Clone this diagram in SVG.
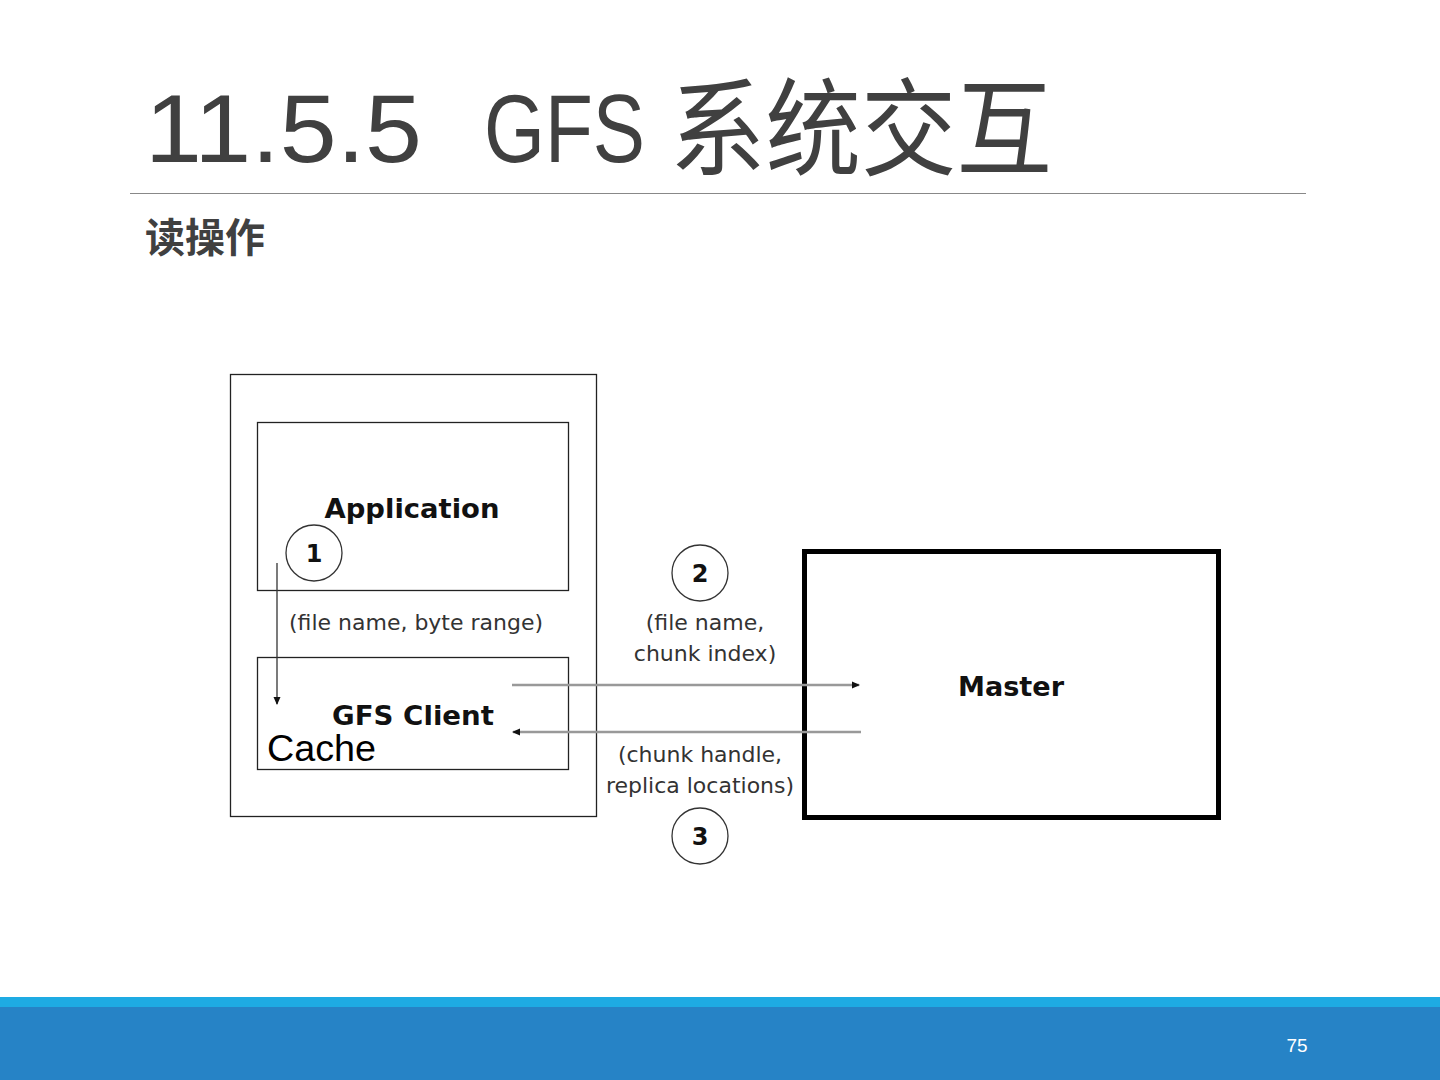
<svg xmlns="http://www.w3.org/2000/svg" width="1440" height="1080" viewBox="0 0 1440 1080">
<style>
.title{font-family:"Liberation Sans","Noto Sans CJK SC",sans-serif;fill:#404040}
.lbl{font-family:"DejaVu Sans",sans-serif;font-weight:bold;fill:#111;text-anchor:middle}
.note{font-family:"DejaVu Sans",sans-serif;fill:#333;text-anchor:middle;font-size:22px}
.box{fill:#fff;stroke:#222;stroke-width:1.3}
.num{fill:#fff;stroke:#333;stroke-width:1.3}
.conn{stroke:#999;stroke-width:2.5;fill:none}
</style>
<defs>
<marker id="ah" markerWidth="8" markerHeight="8" refX="7" refY="4" orient="auto" markerUnits="userSpaceOnUse">
<path d="M0,0.5 L8,4 L0,7.5 Z" fill="#111"/>
</marker>
</defs>
<rect width="1440" height="1080" fill="#fff"/>
<text class="title" x="145" y="162" font-size="96" textLength="277" lengthAdjust="spacingAndGlyphs">11.5.5</text>
<text class="title" x="484" y="162" font-size="96" textLength="161" lengthAdjust="spacingAndGlyphs">GFS</text>
<text class="title" x="670" y="167" font-size="106" textLength="382" lengthAdjust="spacingAndGlyphs">系统交互</text>
<line x1="130" y1="193.5" x2="1306" y2="193.5" stroke="#888" stroke-width="1.2"/>
<text class="title" x="145" y="252" font-size="40" font-weight="bold">读操作</text>

<g id="client-host">
<rect class="box" x="230.5" y="374.5" width="366" height="442"/>
</g>
<g id="application">
<rect class="box" x="257.5" y="422.5" width="311" height="168"/>
<text class="lbl" x="412" y="518" font-size="27" textLength="175" lengthAdjust="spacingAndGlyphs">Application</text>
</g>
<g id="gfs-client">
<rect class="box" x="257.5" y="657.5" width="311" height="112"/>
<text class="lbl" x="413" y="725" font-size="27" textLength="162" lengthAdjust="spacingAndGlyphs">GFS Client</text>
<text x="267" y="761" font-family="Liberation Sans,sans-serif" font-size="37" fill="#000" textLength="109" lengthAdjust="spacingAndGlyphs">Cache</text>
</g>
<g id="master">
<rect x="804.5" y="551.5" width="414" height="266" fill="#fff" stroke="#000" stroke-width="5"/>
<text class="lbl" x="1011" y="696" font-size="27" textLength="106" lengthAdjust="spacingAndGlyphs">Master</text>
</g>
<g id="step1">
<circle class="num" cx="314" cy="553" r="28"/>
<text class="lbl" x="314" y="562" font-size="24">1</text>
</g>
<g id="step2">
<circle class="num" cx="700" cy="573" r="28"/>
<text class="lbl" x="700" y="582" font-size="24">2</text>
</g>
<g id="step3">
<circle class="num" cx="700" cy="836" r="28"/>
<text class="lbl" x="700" y="845" font-size="24">3</text>
</g>

<g id="connectors">
<line x1="277" y1="563" x2="277" y2="704" stroke="#333" stroke-width="1.3" marker-end="url(#ah)"/>
<line class="conn" x1="512" y1="685" x2="859" y2="685" marker-end="url(#ah)"/>
<line class="conn" x1="861" y1="732" x2="513" y2="732" marker-end="url(#ah)"/>
</g>
<g id="labels">
<text class="note" x="416" y="630" textLength="254" lengthAdjust="spacingAndGlyphs">(file name, byte range)</text>
<text class="note" x="705" y="630">(file name,</text>
<text class="note" x="705" y="661">chunk index)</text>
<text class="note" x="700" y="762">(chunk handle,</text>
<text class="note" x="700" y="793">replica locations)</text>
</g>

<rect x="0" y="997" width="1440" height="10" fill="#1EABE3"/>
<rect x="0" y="1007" width="1440" height="73" fill="#2683C6"/>
<text x="1297" y="1052" font-family="Liberation Sans,sans-serif" font-size="19" fill="#fff" text-anchor="middle">75</text>
</svg>
